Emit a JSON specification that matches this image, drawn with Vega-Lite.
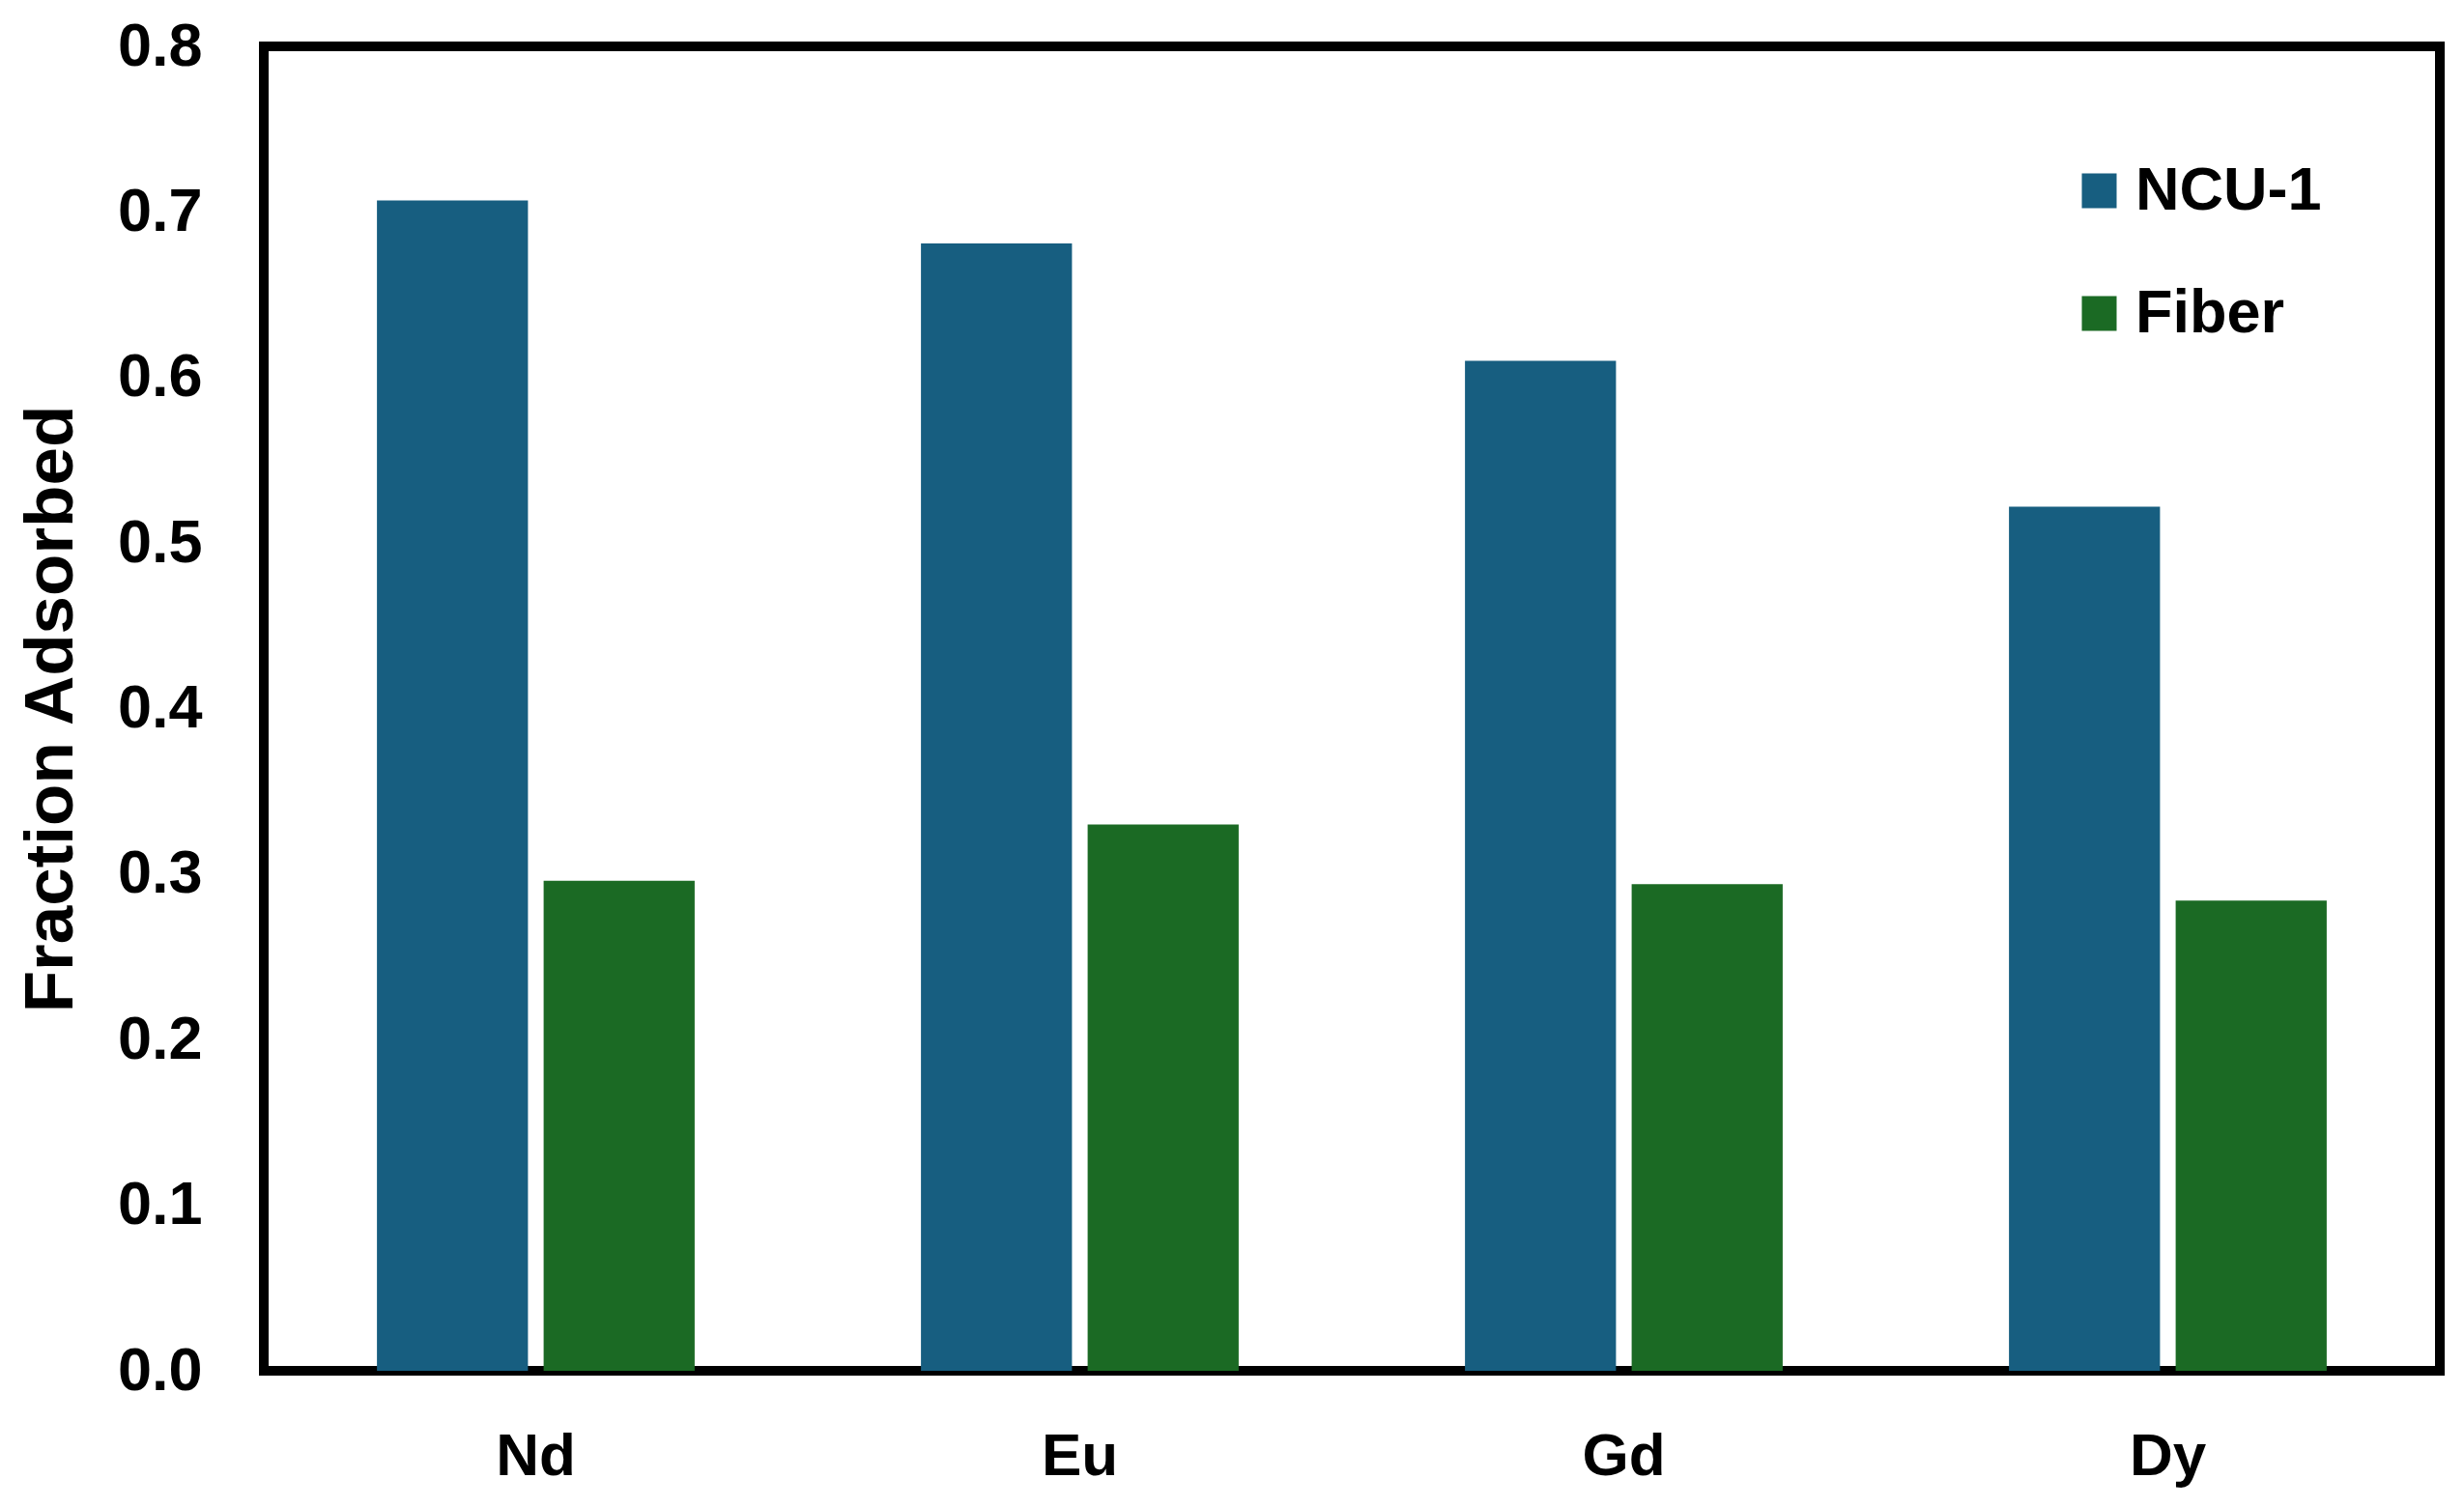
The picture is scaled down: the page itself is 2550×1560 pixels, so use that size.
{
  "$schema": "https://vega.github.io/schema/vega-lite/v6.json",
  "width": 2252,
  "height": 1371,
  "autosize": "none",
  "padding": {"left": 273, "top": 48, "right": 25, "bottom": 141},
  "background": "white",
  "config": {
    "view": {"stroke": "black", "strokeWidth": 10},
    "font": "Liberation Sans"
  },
  "data": {
    "values": [
      {"element": "Nd", "material": "NCU-1", "fraction": 0.707},
      {"element": "Nd", "material": "Fiber", "fraction": 0.296},
      {"element": "Eu", "material": "NCU-1", "fraction": 0.681},
      {"element": "Eu", "material": "Fiber", "fraction": 0.330},
      {"element": "Gd", "material": "NCU-1", "fraction": 0.610},
      {"element": "Gd", "material": "Fiber", "fraction": 0.294},
      {"element": "Dy", "material": "NCU-1", "fraction": 0.522},
      {"element": "Dy", "material": "Fiber", "fraction": 0.284}
    ]
  },
  "mark": {"type": "bar"},
  "encoding": {
    "x": {
      "field": "element",
      "type": "nominal",
      "sort": ["Nd", "Eu", "Gd", "Dy"],
      "scale": {"paddingInner": 0.416, "paddingOuter": 0.208},
      "axis": {
        "title": null,
        "labelAngle": 0,
        "ticks": false,
        "domain": false,
        "labelFont": "Liberation Sans",
        "labelFontWeight": "bold",
        "labelFontSize": 62,
        "labelColor": "black",
        "labelPadding": 58
      }
    },
    "xOffset": {
      "field": "material",
      "type": "nominal",
      "sort": ["NCU-1", "Fiber"],
      "scale": {"paddingInner": 0.094, "paddingOuter": 0}
    },
    "y": {
      "field": "fraction",
      "type": "quantitative",
      "scale": {"domain": [0, 0.8], "nice": false},
      "axis": {
        "title": "Fraction Adsorbed",
        "values": [0, 0.1, 0.2, 0.3, 0.4, 0.5, 0.6, 0.7, 0.8],
        "format": ".1f",
        "grid": false,
        "ticks": false,
        "domain": false,
        "labelFont": "Liberation Sans",
        "labelFontWeight": "bold",
        "labelFontSize": 63,
        "labelColor": "black",
        "labelPadding": 64,
        "titleFont": "Liberation Sans",
        "titleFontWeight": "bold",
        "titleFontSize": 71,
        "titleColor": "black",
        "titlePadding": 32
      }
    },
    "color": {
      "field": "material",
      "type": "nominal",
      "sort": ["NCU-1", "Fiber"],
      "scale": {"domain": ["NCU-1", "Fiber"], "range": ["#175E80", "#1B6A24"]},
      "legend": {
        "title": null,
        "orient": "none",
        "legendX": 1868,
        "legendY": 118,
        "symbolType": "square",
        "symbolSize": 1296,
        "symbolStrokeWidth": 0,
        "symbolOpacity": 1,
        "labelFont": "Liberation Sans",
        "labelFontWeight": "bold",
        "labelFontSize": 63,
        "labelColor": "black",
        "labelOffset": 6,
        "rowPadding": 63,
        "labelLimit": 400
      }
    }
  }
}
